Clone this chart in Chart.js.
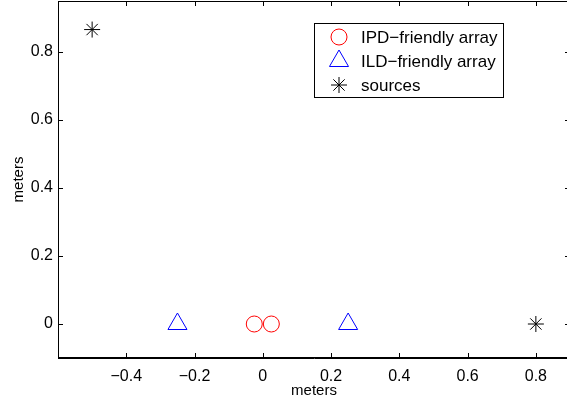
<!DOCTYPE html>
<html>
<head>
<meta charset="utf-8">
<script src="https://cdn.jsdelivr.net/npm/chart.js@4/dist/chart.umd.min.js"></script>
<style>
  html, body { margin: 0; padding: 0; background: #fff; overflow: hidden; }
  /* kanvas 3px lebih lebar: sisi kanan kotak terpotong seperti gambar asli */
  #wrap { width: 567px; height: 402px; overflow: hidden; }
</style>
</head>
<body>
<div id="wrap"><canvas id="c" width="570" height="402"></canvas></div>
<script>
// data
const ipdX = [-0.025, 0.025];
const ipdY = [0, 0];
const ildX = [-0.25, 0.25];
const ildY = [0, 0];
const srcX = [-0.5, 0.8];
const srcY = [0.866, 0];

const xTicks = [-0.4, -0.2, 0, 0.2, 0.4, 0.6, 0.8];
const yTicks = [0, 0.2, 0.4, 0.6, 0.8];
const seriesNames = ['IPD\u2212friendly array', 'ILD\u2212friendly array', 'sources'];

const FONT = 'Liberation Sans, Arial, Helvetica, sans-serif';

function pts(xs, ys) { return xs.map((x, i) => ({ x: x, y: ys[i] })); }
function fmt(v) {
  const s = String(Math.round(v * 10) / 10);
  return s.replace('-', '\u2212');
}

// kotak + tick ke dalam di keempat sisi (gaya matlab)
const boxTicks = {
  id: 'boxTicks',
  afterDraw(chart) {
    const { ctx, chartArea: a, scales } = chart;
    const len = 5;
    ctx.save();
    ctx.strokeStyle = '#000';
    ctx.lineWidth = 1;
    ctx.beginPath();
    ctx.rect(a.left + 0.5, a.top + 0.5, a.right - a.left - 1, a.bottom - a.top - 1);
    xTicks.forEach(v => {
      const px = Math.round(scales.x.getPixelForValue(v)) + 0.5;
      ctx.moveTo(px, a.bottom); ctx.lineTo(px, a.bottom - len);
      ctx.moveTo(px, a.top); ctx.lineTo(px, a.top + len);
    });
    yTicks.forEach(v => {
      const py = Math.round(scales.y.getPixelForValue(v)) + 0.5;
      ctx.moveTo(a.left, py); ctx.lineTo(a.left + len, py);
      ctx.moveTo(a.right, py); ctx.lineTo(a.right - len, py);
    });
    ctx.stroke();
    ctx.restore();
  }
};

// legenda di dalam area plot, kanan atas
const boxLegend = {
  id: 'boxLegend',
  afterDraw(chart) {
    const ctx = chart.ctx;
    const x0 = 314, y0 = 23, w = 189, h = 74;
    ctx.save();
    ctx.fillStyle = '#fff';
    ctx.fillRect(x0, y0, w, h);
    ctx.strokeStyle = '#000';
    ctx.lineWidth = 1;
    ctx.strokeRect(x0 + 0.5, y0 + 0.5, w, h);
    ctx.font = '17px ' + FONT;
    ctx.textBaseline = 'middle';
    chart.data.datasets.forEach((ds, i) => {
      const cy = y0 + 14 + i * 24;
      ctx.strokeStyle = ds.borderColor;
      ctx.fillStyle = 'rgba(0,0,0,0)';
      ctx.lineWidth = 1;
      Chart.helpers.drawPoint(ctx, {
        pointStyle: ds.pointStyle,
        radius: ds.pointRadius,
        borderWidth: 1
      }, 339, cy);
      ctx.fillStyle = '#000';
      ctx.fillText(seriesNames[i], 361, cy + 1);
    });
    ctx.restore();
  }
};

function mk(i, data, style, color, r) {
  return {
    label: seriesNames[i],
    data: data,
    pointStyle: style,
    pointRadius: r,
    pointHoverRadius: r,
    borderColor: color,
    backgroundColor: 'rgba(0,0,0,0)',
    borderWidth: 1,
    showLine: false
  };
}

new Chart(document.getElementById('c'), {
  type: 'scatter',
  data: {
    datasets: [
      mk(0, pts(ipdX, ipdY), 'circle', '#ff0000', 8),
      mk(1, pts(ildX, ildY), 'triangle', '#0000ff', 11),
      mk(2, pts(srcX, srcY), 'star', '#000000', 8)
    ]
  },
  options: {
    responsive: false,
    animation: false,
    // autoPadding mati: kalau tidak, radius marker menambah jarak di tepi
    layout: { autoPadding: false, padding: { top: 1, right: 0, left: 0, bottom: 0 } },
    plugins: { legend: { display: false }, tooltip: { enabled: false } },
    scales: {
      x: {
        type: 'linear',
        min: -0.6, max: 0.9,
        afterBuildTicks: s => { s.ticks = xTicks.map(v => ({ value: v })); },
        afterFit: s => { s.height = 44; s.paddingLeft = 0; s.paddingRight = 0; },
        grid: { display: false, drawTicks: false },
        border: { display: true, color: '#000' },
        ticks: { color: '#000', padding: 9, font: { family: FONT, size: 16 }, callback: v => fmt(v), maxRotation: 0 },
        title: { display: true, text: 'meters', color: '#000', padding: { top: 0, bottom: 2 }, font: { family: FONT, size: 15 } }
      },
      y: {
        type: 'linear',
        min: -0.1, max: 0.95,
        afterBuildTicks: s => { s.ticks = yTicks.map(v => ({ value: v })); },
        afterFit: s => { s.width = 58; s.paddingTop = 0; s.paddingBottom = 0; },
        grid: { display: false, drawTicks: false },
        border: { display: true, color: '#000' },
        ticks: { color: '#000', padding: 5, font: { family: FONT, size: 16 }, callback: v => fmt(v) },
        title: { display: true, text: 'meters', color: '#000', padding: { top: 10, bottom: 0 }, font: { family: FONT, size: 15 } }
      }
    }
  },
  plugins: [boxTicks, boxLegend]
});
</script>
</body>
</html>
